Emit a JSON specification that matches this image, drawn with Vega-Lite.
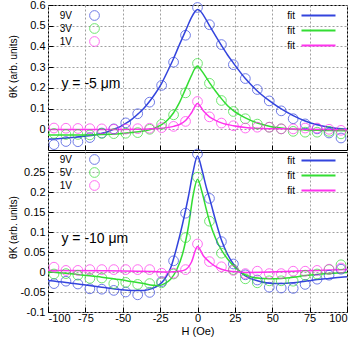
{
  "$schema": "https://vega.github.io/schema/vega-lite/v6.json",
  "padding": {"left": 7, "top": -2, "right": 2, "bottom": 0},
  "spacing": 2,
  "bounds": "flush",
  "config": {
    "font": "Liberation Sans",
    "view": {"stroke": "black", "strokeWidth": 1},
    "axis": {
      "labelFont": "Liberation Sans", "labelFontSize": 11, "labelColor": "black",
      "titleFont": "Liberation Sans", "titleFontWeight": "normal", "titleColor": "black",
      "grid": true, "gridColor": "#a0a0a0", "gridDash": [2, 2], "gridWidth": 1,
      "domain": false, "tickColor": "black", "tickSize": -5, "labelPadding": 8,
      "labelExpr": "'' + datum.value"
    },
    "legend": {"labelFont": "Liberation Sans", "labelFontSize": 10, "labelColor": "black", "title": null}
  },
  "datasets": {
    "topPts": [
      {"s":"9V","H":-96,"v":-0.074},{"s":"9V","H":-88,"v":-0.059},{"s":"9V","H":-80,"v":-0.060},{"s":"9V","H":-72,"v":-0.040},{"s":"9V","H":-64,"v":-0.018},{"s":"9V","H":-56,"v":0.002},{"s":"9V","H":-48,"v":0.031},{"s":"9V","H":-40,"v":0.075},{"s":"9V","H":-32,"v":0.131},{"s":"9V","H":-24,"v":0.212},{"s":"9V","H":-16,"v":0.324},{"s":"9V","H":-8,"v":0.454},{"s":"9V","H":0,"v":0.588},{"s":"9V","H":8,"v":0.505},{"s":"9V","H":16,"v":0.409},{"s":"9V","H":24,"v":0.312},{"s":"9V","H":32,"v":0.245},{"s":"9V","H":40,"v":0.192},{"s":"9V","H":48,"v":0.137},{"s":"9V","H":56,"v":0.089},{"s":"9V","H":64,"v":0.051},{"s":"9V","H":72,"v":0.026},{"s":"9V","H":80,"v":0.002},{"s":"9V","H":88,"v":-0.018},{"s":"9V","H":96,"v":-0.042},
      {"s":"3V","H":-96,"v":-0.020},{"s":"3V","H":-88,"v":-0.025},{"s":"3V","H":-80,"v":-0.025},{"s":"3V","H":-72,"v":-0.027},{"s":"3V","H":-64,"v":-0.020},{"s":"3V","H":-56,"v":-0.021},{"s":"3V","H":-48,"v":-0.019},{"s":"3V","H":-40,"v":-0.016},{"s":"3V","H":-32,"v":0.000},{"s":"3V","H":-24,"v":0.024},{"s":"3V","H":-16,"v":0.070},{"s":"3V","H":-8,"v":0.176},{"s":"3V","H":0,"v":0.318},{"s":"3V","H":8,"v":0.222},{"s":"3V","H":16,"v":0.139},{"s":"3V","H":24,"v":0.086},{"s":"3V","H":32,"v":0.051},{"s":"3V","H":40,"v":0.025},{"s":"3V","H":48,"v":0.010},{"s":"3V","H":56,"v":0.002},{"s":"3V","H":64,"v":-0.010},{"s":"3V","H":72,"v":-0.014},{"s":"3V","H":80,"v":-0.014},{"s":"3V","H":88,"v":-0.010},{"s":"3V","H":96,"v":-0.022},
      {"s":"1V","H":-96,"v":0.006},{"s":"1V","H":-88,"v":0.005},{"s":"1V","H":-80,"v":0.004},{"s":"1V","H":-72,"v":0.003},{"s":"1V","H":-64,"v":0.002},{"s":"1V","H":-56,"v":0.000},{"s":"1V","H":-48,"v":0.001},{"s":"1V","H":-40,"v":0.003},{"s":"1V","H":-32,"v":0.005},{"s":"1V","H":-24,"v":0.008},{"s":"1V","H":-16,"v":0.014},{"s":"1V","H":-8,"v":0.038},{"s":"1V","H":0,"v":0.134},{"s":"1V","H":8,"v":0.060},{"s":"1V","H":16,"v":0.030},{"s":"1V","H":24,"v":0.017},{"s":"1V","H":32,"v":0.006},{"s":"1V","H":40,"v":0.010},{"s":"1V","H":48,"v":0.010},{"s":"1V","H":56,"v":0.002},{"s":"1V","H":64,"v":0.002},{"s":"1V","H":72,"v":0.006},{"s":"1V","H":80,"v":0.006},{"s":"1V","H":88,"v":0.000},{"s":"1V","H":96,"v":-0.005}
    ],
    "topFit": [
      {"s":"f9","H":-100,"v":-0.048},{"s":"f9","H":-92,"v":-0.045},{"s":"f9","H":-84,"v":-0.040},{"s":"f9","H":-76,"v":-0.034},{"s":"f9","H":-68,"v":-0.026},{"s":"f9","H":-60,"v":-0.012},{"s":"f9","H":-56,"v":0.000},{"s":"f9","H":-52,"v":0.012},{"s":"f9","H":-48,"v":0.028},{"s":"f9","H":-44,"v":0.048},{"s":"f9","H":-40,"v":0.073},{"s":"f9","H":-36,"v":0.100},{"s":"f9","H":-32,"v":0.135},{"s":"f9","H":-28,"v":0.175},{"s":"f9","H":-24,"v":0.222},{"s":"f9","H":-20,"v":0.280},{"s":"f9","H":-16,"v":0.342},{"s":"f9","H":-12,"v":0.410},{"s":"f9","H":-8,"v":0.475},{"s":"f9","H":-4,"v":0.540},{"s":"f9","H":-2,"v":0.565},{"s":"f9","H":0,"v":0.578},{"s":"f9","H":2,"v":0.570},{"s":"f9","H":4,"v":0.550},{"s":"f9","H":8,"v":0.500},{"s":"f9","H":12,"v":0.452},{"s":"f9","H":16,"v":0.405},{"s":"f9","H":20,"v":0.360},{"s":"f9","H":24,"v":0.320},{"s":"f9","H":32,"v":0.245},{"s":"f9","H":40,"v":0.185},{"s":"f9","H":48,"v":0.138},{"s":"f9","H":56,"v":0.098},{"s":"f9","H":64,"v":0.066},{"s":"f9","H":72,"v":0.040},{"s":"f9","H":80,"v":0.022},{"s":"f9","H":88,"v":0.010},{"s":"f9","H":96,"v":0.002},{"s":"f9","H":100,"v":0.000},
      {"s":"f3","H":-100,"v":-0.028},{"s":"f3","H":-88,"v":-0.028},{"s":"f3","H":-76,"v":-0.027},{"s":"f3","H":-64,"v":-0.025},{"s":"f3","H":-52,"v":-0.021},{"s":"f3","H":-44,"v":-0.016},{"s":"f3","H":-36,"v":-0.008},{"s":"f3","H":-32,"v":-0.002},{"s":"f3","H":-28,"v":0.008},{"s":"f3","H":-24,"v":0.022},{"s":"f3","H":-20,"v":0.045},{"s":"f3","H":-16,"v":0.080},{"s":"f3","H":-12,"v":0.130},{"s":"f3","H":-8,"v":0.195},{"s":"f3","H":-4,"v":0.260},{"s":"f3","H":-2,"v":0.290},{"s":"f3","H":0,"v":0.305},{"s":"f3","H":2,"v":0.290},{"s":"f3","H":4,"v":0.270},{"s":"f3","H":8,"v":0.225},{"s":"f3","H":12,"v":0.185},{"s":"f3","H":16,"v":0.148},{"s":"f3","H":20,"v":0.115},{"s":"f3","H":24,"v":0.090},{"s":"f3","H":32,"v":0.055},{"s":"f3","H":40,"v":0.030},{"s":"f3","H":48,"v":0.015},{"s":"f3","H":56,"v":0.006},{"s":"f3","H":64,"v":0.000},{"s":"f3","H":72,"v":-0.003},{"s":"f3","H":80,"v":-0.005},{"s":"f3","H":88,"v":-0.006},{"s":"f3","H":100,"v":-0.007},
      {"s":"f1","H":-100,"v":-0.001},{"s":"f1","H":-60,"v":-0.001},{"s":"f1","H":-40,"v":0.000},{"s":"f1","H":-32,"v":0.002},{"s":"f1","H":-24,"v":0.005},{"s":"f1","H":-16,"v":0.014},{"s":"f1","H":-12,"v":0.023},{"s":"f1","H":-8,"v":0.042},{"s":"f1","H":-4,"v":0.080},{"s":"f1","H":0,"v":0.125},{"s":"f1","H":4,"v":0.088},{"s":"f1","H":8,"v":0.060},{"s":"f1","H":12,"v":0.043},{"s":"f1","H":16,"v":0.031},{"s":"f1","H":24,"v":0.017},{"s":"f1","H":32,"v":0.009},{"s":"f1","H":40,"v":0.005},{"s":"f1","H":56,"v":0.002},{"s":"f1","H":72,"v":0.000},{"s":"f1","H":100,"v":-0.002}
    ],
    "botPts": [
      {"s":"9V","H":-96,"v":-0.029},{"s":"9V","H":-88,"v":-0.023},{"s":"9V","H":-80,"v":-0.030},{"s":"9V","H":-72,"v":-0.042},{"s":"9V","H":-64,"v":-0.043},{"s":"9V","H":-56,"v":-0.046},{"s":"9V","H":-48,"v":-0.050},{"s":"9V","H":-40,"v":-0.057},{"s":"9V","H":-32,"v":-0.051},{"s":"9V","H":-24,"v":-0.024},{"s":"9V","H":-16,"v":0.028},{"s":"9V","H":-8,"v":0.147},{"s":"9V","H":0,"v":0.295},{"s":"9V","H":8,"v":0.184},{"s":"9V","H":16,"v":0.076},{"s":"9V","H":24,"v":0.020},{"s":"9V","H":32,"v":-0.007},{"s":"9V","H":40,"v":-0.020},{"s":"9V","H":48,"v":-0.038},{"s":"9V","H":56,"v":-0.040},{"s":"9V","H":64,"v":-0.041},{"s":"9V","H":72,"v":-0.031},{"s":"9V","H":80,"v":-0.018},{"s":"9V","H":88,"v":-0.008},{"s":"9V","H":96,"v":0.007},
      {"s":"5V","H":-96,"v":-0.005},{"s":"5V","H":-88,"v":-0.004},{"s":"5V","H":-80,"v":-0.008},{"s":"5V","H":-72,"v":-0.016},{"s":"5V","H":-64,"v":-0.015},{"s":"5V","H":-56,"v":-0.029},{"s":"5V","H":-48,"v":-0.026},{"s":"5V","H":-40,"v":-0.031},{"s":"5V","H":-32,"v":-0.029},{"s":"5V","H":-24,"v":-0.027},{"s":"5V","H":-16,"v":-0.005},{"s":"5V","H":-8,"v":0.086},{"s":"5V","H":0,"v":0.237},{"s":"5V","H":8,"v":0.127},{"s":"5V","H":16,"v":0.047},{"s":"5V","H":24,"v":0.006},{"s":"5V","H":32,"v":-0.017},{"s":"5V","H":40,"v":-0.027},{"s":"5V","H":48,"v":-0.022},{"s":"5V","H":56,"v":-0.022},{"s":"5V","H":64,"v":-0.023},{"s":"5V","H":72,"v":-0.008},{"s":"5V","H":80,"v":-0.005},{"s":"5V","H":88,"v":0.006},{"s":"5V","H":96,"v":0.018},
      {"s":"1V","H":-96,"v":0.012},{"s":"1V","H":-88,"v":0.004},{"s":"1V","H":-80,"v":0.004},{"s":"1V","H":-72,"v":0.006},{"s":"1V","H":-64,"v":0.006},{"s":"1V","H":-56,"v":0.006},{"s":"1V","H":-48,"v":0.006},{"s":"1V","H":-40,"v":0.006},{"s":"1V","H":-32,"v":0.006},{"s":"1V","H":-24,"v":-0.003},{"s":"1V","H":-16,"v":-0.003},{"s":"1V","H":-8,"v":0.006},{"s":"1V","H":0,"v":0.070},{"s":"1V","H":8,"v":0.026},{"s":"1V","H":16,"v":0.013},{"s":"1V","H":24,"v":0.004},{"s":"1V","H":32,"v":-0.004},{"s":"1V","H":40,"v":0.002},{"s":"1V","H":48,"v":-0.004},{"s":"1V","H":56,"v":-0.004},{"s":"1V","H":64,"v":0.002},{"s":"1V","H":72,"v":0.002},{"s":"1V","H":80,"v":0.004},{"s":"1V","H":88,"v":0.007},{"s":"1V","H":96,"v":0.010}
    ],
    "botFit": [
      {"s":"f9","H":-100,"v":-0.021},{"s":"f9","H":-88,"v":-0.026},{"s":"f9","H":-76,"v":-0.032},{"s":"f9","H":-64,"v":-0.038},{"s":"f9","H":-52,"v":-0.044},{"s":"f9","H":-44,"v":-0.046},{"s":"f9","H":-36,"v":-0.046},{"s":"f9","H":-30,"v":-0.041},{"s":"f9","H":-26,"v":-0.033},{"s":"f9","H":-22,"v":-0.018},{"s":"f9","H":-18,"v":0.010},{"s":"f9","H":-14,"v":0.060},{"s":"f9","H":-10,"v":0.120},{"s":"f9","H":-6,"v":0.190},{"s":"f9","H":-3,"v":0.250},{"s":"f9","H":0,"v":0.290},{"s":"f9","H":3,"v":0.255},{"s":"f9","H":6,"v":0.210},{"s":"f9","H":8,"v":0.185},{"s":"f9","H":12,"v":0.130},{"s":"f9","H":16,"v":0.080},{"s":"f9","H":20,"v":0.045},{"s":"f9","H":24,"v":0.020},{"s":"f9","H":28,"v":0.002},{"s":"f9","H":32,"v":-0.010},{"s":"f9","H":40,"v":-0.022},{"s":"f9","H":48,"v":-0.028},{"s":"f9","H":56,"v":-0.029},{"s":"f9","H":64,"v":-0.027},{"s":"f9","H":72,"v":-0.023},{"s":"f9","H":80,"v":-0.019},{"s":"f9","H":88,"v":-0.016},{"s":"f9","H":96,"v":-0.013},{"s":"f9","H":100,"v":-0.012},
      {"s":"f5","H":-100,"v":0.000},{"s":"f5","H":-88,"v":-0.003},{"s":"f5","H":-76,"v":-0.008},{"s":"f5","H":-64,"v":-0.013},{"s":"f5","H":-52,"v":-0.019},{"s":"f5","H":-44,"v":-0.024},{"s":"f5","H":-36,"v":-0.029},{"s":"f5","H":-30,"v":-0.033},{"s":"f5","H":-26,"v":-0.034},{"s":"f5","H":-22,"v":-0.029},{"s":"f5","H":-18,"v":-0.018},{"s":"f5","H":-14,"v":0.005},{"s":"f5","H":-10,"v":0.045},{"s":"f5","H":-6,"v":0.115},{"s":"f5","H":-3,"v":0.190},{"s":"f5","H":0,"v":0.232},{"s":"f5","H":3,"v":0.200},{"s":"f5","H":6,"v":0.155},{"s":"f5","H":8,"v":0.127},{"s":"f5","H":12,"v":0.085},{"s":"f5","H":16,"v":0.055},{"s":"f5","H":20,"v":0.033},{"s":"f5","H":24,"v":0.016},{"s":"f5","H":28,"v":0.003},{"s":"f5","H":32,"v":-0.007},{"s":"f5","H":40,"v":-0.015},{"s":"f5","H":48,"v":-0.017},{"s":"f5","H":56,"v":-0.016},{"s":"f5","H":64,"v":-0.013},{"s":"f5","H":72,"v":-0.009},{"s":"f5","H":80,"v":-0.006},{"s":"f5","H":88,"v":-0.004},{"s":"f5","H":100,"v":-0.001},
      {"s":"f1","H":-100,"v":0.004},{"s":"f1","H":-60,"v":0.003},{"s":"f1","H":-30,"v":0.001},{"s":"f1","H":-20,"v":0.000},{"s":"f1","H":-12,"v":0.002},{"s":"f1","H":-8,"v":0.006},{"s":"f1","H":-4,"v":0.025},{"s":"f1","H":0,"v":0.064},{"s":"f1","H":4,"v":0.040},{"s":"f1","H":8,"v":0.025},{"s":"f1","H":12,"v":0.014},{"s":"f1","H":16,"v":0.007},{"s":"f1","H":24,"v":0.001},{"s":"f1","H":32,"v":-0.001},{"s":"f1","H":48,"v":0.000},{"s":"f1","H":64,"v":0.002},{"s":"f1","H":80,"v":0.004},{"s":"f1","H":100,"v":0.006}
    ]
  },
  "vconcat": [
    {
      "width": 299, "height": 145,
      "encoding": {
        "x": {"field": "H", "type": "quantitative", "scale": {"domain": [-100, 100], "nice": false},
              "axis": {"values": [-100, -75, -50, -25, 0, 25, 50, 75, 100], "labels": false, "title": null}},
        "y": {"field": "v", "type": "quantitative", "scale": {"domain": [-0.1, 0.6], "nice": false},
              "axis": {"values": [0, 0.1, 0.2, 0.3, 0.4, 0.5, 0.6], "title": "θK (arb. units)", "titleFontSize": 10, "titleX": -30, "titleY": 61}}
      },
      "layer": [
        {"data": {"name": "topFit"}, "mark": {"type": "line", "interpolate": "monotone", "strokeWidth": 1.5},
         "encoding": {"stroke": {"field": "s", "type": "nominal", "scale": {"domain": ["f9", "f3", "f1"], "range": ["#3344dd", "#33dd33", "#ff33ee"]},
           "legend": {"orient": "none", "legendX": 261, "legendY": 1, "labelExpr": "'fit'", "symbolType": "M-2,0H2", "symbolSize": 289, "symbolStrokeWidth": 2, "labelAlign": "right", "labelOffset": -33, "rowPadding": -7}}}},
        {"data": {"name": "topPts"}, "mark": {"type": "point", "shape": "circle", "filled": false, "size": 95, "strokeWidth": 1},
         "encoding": {"color": {"field": "s", "type": "nominal", "scale": {"domain": ["9V", "3V", "1V"], "range": ["#3344dd", "#33dd33", "#ff33ee"]},
           "legend": {"orient": "none", "legendX": 41, "legendY": 5, "symbolType": "circle", "symbolSize": 95, "symbolStrokeWidth": 1, "labelAlign": "right", "labelOffset": -28, "rowPadding": -5.5}}}},
        {"data": {"values": [{"H": -91, "v": 0.22, "t": "y = -5 μm"}]}, "mark": {"type": "text", "align": "left", "baseline": "middle", "fontSize": 14, "font": "Liberation Sans"},
         "encoding": {"text": {"field": "t"}}}
      ],
      "resolve": {"scale": {"color": "independent", "stroke": "independent"}}
    },
    {
      "width": 299, "height": 160,
      "encoding": {
        "x": {"field": "H", "type": "quantitative", "scale": {"domain": [-100, 100], "nice": false},
              "axis": {"values": [-100, -75, -50, -25, 0, 25, 50, 75, 100], "title": "H (Oe)", "titleFontSize": 11, "titlePadding": 2, "labelPadding": 5}},
        "y": {"field": "v", "type": "quantitative", "scale": {"domain": [-0.1, 0.3], "nice": false},
              "axis": {"values": [-0.1, -0.05, 0, 0.05, 0.1, 0.15, 0.2, 0.25], "title": "θK (arb. units)", "titleFontSize": 10, "titleX": -30, "titleY": 75}}
      },
      "layer": [
        {"data": {"name": "botFit"}, "mark": {"type": "line", "interpolate": "monotone", "strokeWidth": 1.5},
         "encoding": {"stroke": {"field": "s", "type": "nominal", "scale": {"domain": ["f9", "f5", "f1"], "range": ["#3344dd", "#33dd33", "#ff33ee"]},
           "legend": {"orient": "none", "legendX": 261, "legendY": -1, "labelExpr": "'fit'", "symbolType": "M-2,0H2", "symbolSize": 289, "symbolStrokeWidth": 2, "labelAlign": "right", "labelOffset": -33, "rowPadding": -6}}}},
        {"data": {"name": "botPts"}, "mark": {"type": "point", "shape": "circle", "filled": false, "size": 95, "strokeWidth": 1},
         "encoding": {"color": {"field": "s", "type": "nominal", "scale": {"domain": ["9V", "5V", "1V"], "range": ["#3344dd", "#33dd33", "#ff33ee"]},
           "legend": {"orient": "none", "legendX": 41, "legendY": 2, "symbolType": "circle", "symbolSize": 95, "symbolStrokeWidth": 1, "labelAlign": "right", "labelOffset": -28, "rowPadding": -5}}}},
        {"data": {"values": [{"H": -91, "v": 0.083, "t": "y = -10 μm"}]}, "mark": {"type": "text", "align": "left", "baseline": "middle", "fontSize": 14, "font": "Liberation Sans"},
         "encoding": {"text": {"field": "t"}}}
      ],
      "resolve": {"scale": {"color": "independent", "stroke": "independent"}}
    }
  ]
}
